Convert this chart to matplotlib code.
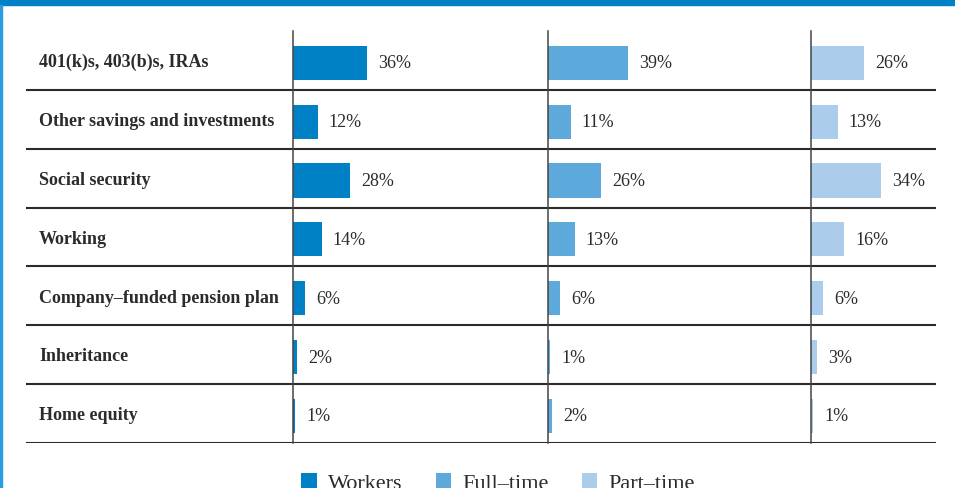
import numpy as np
import matplotlib.pyplot as plt
from matplotlib.patches import Rectangle
import matplotlib.transforms as mtransforms

plt.rcParams['font.family'] = ['Liberation Serif', 'DejaVu Serif']

# retirement income sources, share of respondents (%)
categories = [
    "401(k)s, 403(b)s, IRAs",
    "Other savings and investments",
    "Social security",
    "Working",
    "Company\u2013funded pension plan",
    "Inheritance",
    "Home equity",
]
groups = ["Workers", "Full\u2013time", "Part\u2013time"]
workers = [36, 12, 28, 14, 6, 2, 1]
full_time = [39, 11, 26, 13, 6, 1, 2]
part_time = [26, 13, 34, 16, 6, 3, 1]
series = [workers, full_time, part_time]
colors = ["#0081c6", "#5ea9dc", "#abcdeb"]

W, H = 955, 489
PX_PER_PCT = 2.05
ink = "#2b2b2b"

fig = plt.figure(figsize=(W / 100, H / 100), dpi=100)


def px_axes(x0, y0, x1, y1):
    # axes placed by pixel box measured from the top-left corner
    return fig.add_axes([x0 / W, 1 - y1 / H, (x1 - x0) / W, (y1 - y0) / H])


# frame: blue band on top, thin blue rule on the left
fig.patches.append(Rectangle((0, 1 - 6 / H), 1, 6 / H, transform=fig.transFigure,
                             color="#0080c6", zorder=0))
fig.patches.append(Rectangle((0, 0), 2 / W, 1 - 6 / H, transform=fig.transFigure,
                             color="#2a9de0", zorder=0))

# table grid and row labels
top, bottom = 32, 444
bg = px_axes(26, top, 936, bottom)
bg.set_xlim(0, 1)
bg.set_ylim(len(categories), 0)
bg.axis("off")
bg.hlines(np.arange(1, len(categories) + 1), 0, 1, color=ink, lw=1.5)
trans = mtransforms.blended_transform_factory(bg.transAxes, bg.transData)
for i, cat in enumerate(categories):
    bg.text(13 / 910, i + 0.52, cat, transform=trans, va="center", ha="left",
            fontsize=13, fontweight="bold", color=ink)

# one bar panel per group
panels = [(293, 548), (548, 811), (811, 936)]
handles = []
for (x0, x1), vals, col, name in zip(panels, series, colors, groups):
    ax = px_axes(x0, top, x1, bottom)
    ax.set_xlim(0, (x1 - x0) / PX_PER_PCT)
    ax.set_ylim(len(categories) - 0.5, -0.5)
    ypos = np.arange(len(categories)) + 0.04
    bars = ax.barh(ypos, vals, height=0.58, color=col, label=name, zorder=2)
    handles.append(bars)
    for y, v in zip(ypos, vals):
        ax.annotate(f"{v}%", xy=(v, y), xytext=(8, 0), textcoords="offset points",
                    va="center", ha="left", fontsize=13, color=ink)
    for s in ["top", "right", "bottom"]:
        ax.spines[s].set_visible(False)
    ax.spines["left"].set_color("#444444")
    ax.spines["left"].set_linewidth(1.1)
    ax.set_xticks([])
    ax.set_yticks([])
    ax.patch.set_alpha(0)

fig.legend(handles, groups, loc="center", bbox_to_anchor=(498 / W, 5 / H), ncol=3,
           frameon=False, fontsize=16, handlelength=0.7, handleheight=0.7,
           handletextpad=0.5, columnspacing=1.5, labelcolor=ink)

fig.savefig("out.png", dpi=100)
